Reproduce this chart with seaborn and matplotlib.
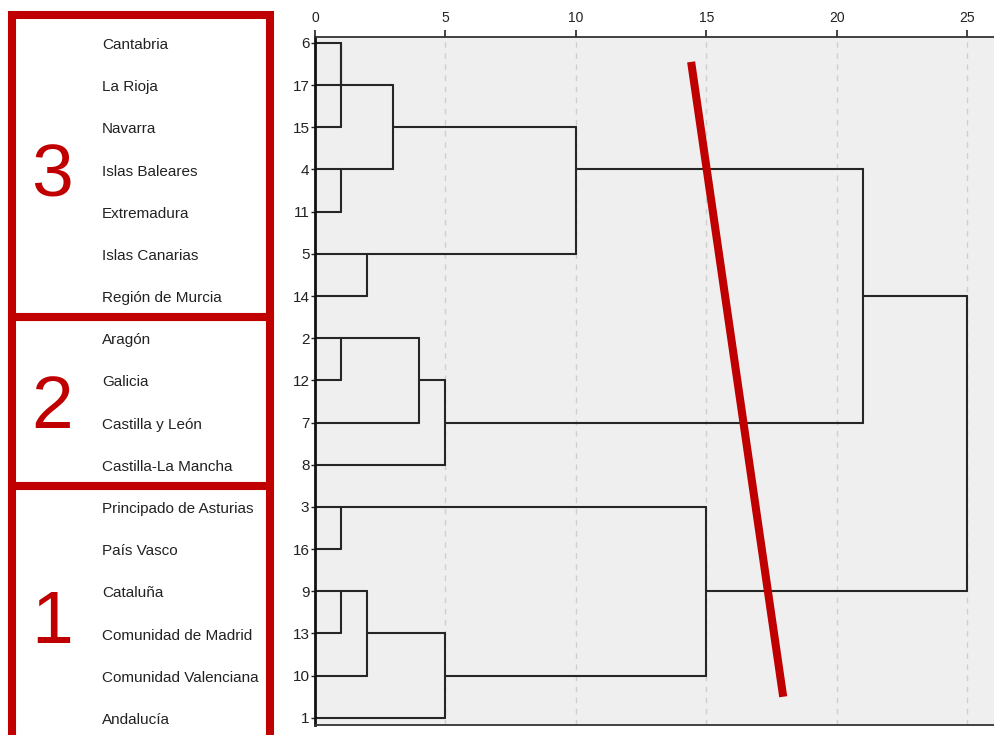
import numpy as np
import pandas as pd
import matplotlib
matplotlib.use("Agg")
import matplotlib.pyplot as plt
import matplotlib.transforms as mtransforms
from matplotlib.patches import Rectangle
import seaborn as sns

# leaf order (top to bottom) and names
leaf_cases = [6, 17, 15, 4, 11, 5, 14, 2, 12, 7, 8, 3, 16, 9, 13, 10, 1]
leaf_names = ["Cantabria", "La Rioja", "Navarra", "Islas Baleares", "Extremadura",
              "Islas Canarias", "Región de Murcia", "Aragón", "Galicia",
              "Castilla y León", "Castilla-La Mancha", "Principado de Asturias",
              "País Vasco", "Cataluña", "Comunidad de Madrid",
              "Comunidad Valenciana", "Andalucía"]

# agglomeration schedule (rescaled distance)
join_left = [6, 6, 4, 9, 3, 2, 5, 9, 6, 2, 2, 9, 6, 3, 6, 6]
join_right = [17, 15, 11, 13, 16, 12, 14, 10, 4, 7, 8, 1, 5, 9, 2, 3]
join_dist = [1, 1, 1, 1, 1, 1, 2, 2, 3, 4, 5, 5, 10, 15, 21, 25]

# groups drawn on the left
group_labels = ["3", "2", "1"]
group_bounds = [-0.66, 6.5, 10.5, 16.7]

RED = "#c00000"

# build segments of the dendrogram
row = {c: float(i) for i, c in enumerate(leaf_cases)}
height = {c: 0.0 for c in leaf_cases}
segs = []
for a, b, d in zip(join_left, join_right, join_dist):
    ra, rb = row[a], row[b]
    segs.append([(height[a], ra), (d, ra)])
    segs.append([(height[b], rb), (d, rb)])
    segs.append([(d, ra), (d, rb)])
    row[a] = float(np.floor((ra + rb) / 2))
    height[a] = d

records = []
for i, s in enumerate(segs):
    for x, y in s:
        records.append({"seg": i, "dist": x, "row": y})
df = pd.DataFrame(records)

sns.set_theme(style="white")
plt.rcParams["font.family"] = ["Liberation Sans", "DejaVu Sans"]

fig = plt.figure(figsize=(9.95, 7.35), dpi=100)
ax = fig.add_axes([315 / 995, 10 / 735, 1 - 315 / 995, 688 / 735])
ax.set_facecolor("#efefef")

for x in [5, 10, 15, 20, 25]:
    ax.axvline(x, color="#cfcfcf", lw=1, ls=(0, (4, 4)), zorder=0)

sns.lineplot(data=df, x="dist", y="row", units="seg", estimator=None, sort=False,
             color="#262626", lw=1.5, ax=ax, legend=False)

ax.set_xlim(0, 26.07)
ax.set_ylim(16.17, -0.14)
ax.set_xlabel("")
ax.set_ylabel("")

ax.xaxis.tick_top()
ax.set_xticks([0, 5, 10, 15, 20, 25])
ax.tick_params(axis="x", top=True, direction="out", length=5, width=1.2,
               labelsize=10, pad=4, colors="#222222")
ax.set_yticks(range(len(leaf_cases)))
ax.set_yticklabels([str(c) for c in leaf_cases])
ax.tick_params(axis="y", left=True, direction="out", length=3, width=1,
               labelsize=11, pad=1, colors="#222222")

for side in ["top", "bottom"]:
    ax.spines[side].set_color("#333333")
    ax.spines[side].set_linewidth(1.3)
ax.spines["left"].set_color("#111111")
ax.spines["left"].set_linewidth(2)
ax.spines["right"].set_visible(False)

# names and red group boxes, left of the axes
trans = mtransforms.blended_transform_factory(fig.transFigure, ax.transData)
for i, name in enumerate(leaf_names):
    ax.text(102 / 995, i + 0.05, name, transform=trans, ha="left", va="center",
            fontsize=11, color="#222222", clip_on=False)

for g, lab in enumerate(group_labels):
    y0, y1 = group_bounds[g], group_bounds[g + 1]
    ax.add_patch(Rectangle((12 / 995, y0), 258 / 995, y1 - y0, transform=trans,
                           fill=False, edgecolor=RED, lw=5.8, clip_on=False))
    mid = (y0 + y1) / 2 if g > 0 else 3
    ax.text(52 / 995, mid + 0.17, lab, transform=trans,
            ha="center", va="center", fontsize=54, color=RED, clip_on=False)

# red cut line
ax.plot([14.42, 17.95], [0.45, 15.5], color=RED, lw=5.8, solid_capstyle="butt",
        zorder=5)

fig.savefig("out.png", dpi=100)
